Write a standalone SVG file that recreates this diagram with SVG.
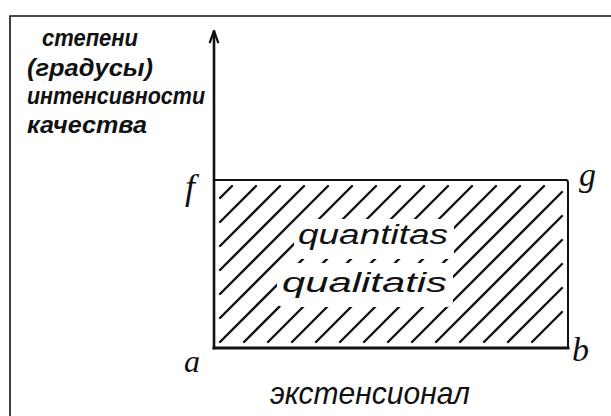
<svg xmlns="http://www.w3.org/2000/svg" width="611" height="416" viewBox="0 0 611 416">
<style>
.hand{font-family:"Liberation Sans","DejaVu Sans",sans-serif;font-style:italic;fill:#111}
.lbl{font-family:"Liberation Serif","DejaVu Serif",serif;font-style:italic;fill:#111}
.hatch line{stroke:#111;stroke-width:2.4;stroke-linecap:round}
.edge{stroke:#111;fill:none;stroke-linecap:square}
</style>
<defs>
<mask id="textgap">
<rect x="0" y="0" width="611" height="416" fill="#fff"/>
<rect x="294" y="219" width="160" height="40" rx="6" fill="#000"/>
<rect x="277" y="263" width="176" height="44" rx="6" fill="#000"/>
</mask>
</defs>
<rect width="611" height="416" fill="#fff"/>
<g id="frame">
<path class="edge" d="M10 16 H611 M10 16 V416" stroke-width="1.6"/>
</g>
<g id="y-axis-label" class="hand" font-weight="bold">
<text x="42" y="46" font-size="24" textLength="96" lengthAdjust="spacingAndGlyphs">степени</text>
<text x="27" y="76" font-size="24" textLength="126" lengthAdjust="spacingAndGlyphs">(градусы)</text>
<text x="27" y="104" font-size="24" textLength="178" lengthAdjust="spacingAndGlyphs">интенсивности</text>
<text x="27" y="133" font-size="24" textLength="120" lengthAdjust="spacingAndGlyphs">качества</text>
</g>
<g id="hatching" class="hatch" mask="url(#textgap)">
<line x1="220" y1="198" x2="232" y2="186"/>
<line x1="220" y1="222" x2="256" y2="186"/>
<line x1="220" y1="246" x2="280" y2="186"/>
<line x1="220" y1="270" x2="304" y2="186"/>
<line x1="220" y1="294" x2="328" y2="186"/>
<line x1="220" y1="318" x2="352" y2="186"/>
<line x1="220" y1="342" x2="376" y2="186"/>
<line x1="244" y1="342" x2="400" y2="186"/>
<line x1="268" y1="342" x2="424" y2="186"/>
<line x1="292" y1="342" x2="448" y2="186"/>
<line x1="316" y1="342" x2="472" y2="186"/>
<line x1="340" y1="342" x2="496" y2="186"/>
<line x1="364" y1="342" x2="520" y2="186"/>
<line x1="388" y1="342" x2="544" y2="186"/>
<line x1="412" y1="342" x2="562" y2="192"/>
<line x1="436" y1="342" x2="562" y2="216"/>
<line x1="460" y1="342" x2="562" y2="240"/>
<line x1="484" y1="342" x2="562" y2="264"/>
<line x1="508" y1="342" x2="562" y2="288"/>
<line x1="532" y1="342" x2="562" y2="312"/>
</g>
<g id="rectangle">
<path class="edge" d="M214 180 H566 Q568 180 568 183 V348" stroke-width="2"/>
<path class="edge" d="M214 348 H568" stroke-width="3"/>
</g>
<g id="axis">
<path class="edge" d="M214 348 V32" stroke-width="2.6"/>
<path class="edge" d="M210 42 L214 31 L218 42" stroke-width="2.2" stroke-linecap="round" stroke-linejoin="round"/>
</g>
<g id="area-label" class="hand">
<text x="298" y="244" font-size="27" textLength="150" lengthAdjust="spacingAndGlyphs">quantitas</text>
<text x="282" y="292" font-size="27" textLength="165" lengthAdjust="spacingAndGlyphs">qualitatis</text>
</g>
<g id="point-labels" class="lbl">
<text x="185" y="199" font-size="36">f</text>
<text x="579" y="186" font-size="34">g</text>
<text x="184" y="372" font-size="32">a</text>
<text x="572" y="361" font-size="34">b</text>
</g>
<g id="x-axis-label" class="hand">
<text x="270" y="404" font-size="32" textLength="200" lengthAdjust="spacingAndGlyphs">экстенсионал</text>
</g>
</svg>
